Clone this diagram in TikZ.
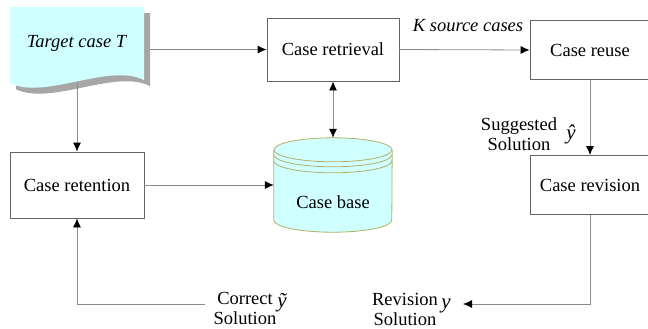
\documentclass[tikz,border=0pt]{standalone}
\usepackage{fontspec}
\setmainfont{LiberationSerif}[Extension=.ttf,UprightFont=*-Regular,ItalicFont=*-Italic,BoldFont=*-Bold,BoldItalicFont=*-BoldItalic]
\usetikzlibrary{arrows.meta,calc,positioning,shadows}
\definecolor{docfill}{RGB}{208,255,255}
\definecolor{baseedge}{RGB}{176,176,100}
\definecolor{boxedge}{RGB}{100,100,100}
\definecolor{linegray}{RGB}{140,140,140}
\tikzset{%
  font=\fontsize{18.5}{21}\selectfont,
  >={Latex[length=9pt,width=8pt,color=black]},
  block/.style={draw=boxedge,line width=0.8pt,rectangle,fill=white,minimum width=132pt,minimum height=63pt,align=center},
  line/.style={draw=linegray,line width=0.8pt,->}
}

\begin{document}
\begin{tikzpicture}[x=1pt,y=-1pt,
  lbl/.style={inner sep=0pt,align=center,font=\fontsize{18.5}{20}\selectfont},
  sym/.style={inner sep=0pt,font=\fontsize{21}{21}\selectfont\itshape},
  cyl/.style={draw=baseedge,line width=0.8pt}]
\useasboundingbox (0,0) rectangle (648,329);
% target document
\node[inner sep=0pt,minimum width=134pt,minimum height=76pt] (target) at (77,45) {};
\path[fill=docfill,drop shadow={shadow xshift=6pt,shadow yshift=-6pt,fill=black!35,opacity=1}]
  (target.north west) -- (target.north east) -- ($(target.south east)+(0,-3)$)
  .. controls ($(target.south)+(33,-21)$) and ($(target.south)+(-32,17)$) .. (target.south west) -- cycle;
\node[lbl] (targetlbl) at (77,43) {\textit{Target case T}};
% process boxes
\node[block] (retrieval) at (333,49.5) {Case retrieval};
\node[block,minimum width=120pt,minimum height=59pt] (reuse) at (590,50) {Case reuse};
\node[block,minimum width=120pt,minimum height=59pt] (revision) at (590,185) {Case revision};
\node[block,minimum width=134pt,minimum height=66pt] (retention) at (77,185) {Case retention};
% case base
\node[inner sep=0pt,minimum width=118pt,minimum height=94pt] (base) at (333,185) {};
\path[fill=docfill] ($(base.north west)+(0,12)$) -- ($(base.south west)+(0,-12)$)
  arc[start angle=180,end angle=0,x radius=59,y radius=12]
  -- ($(base.north east)+(0,12)$) arc[start angle=0,end angle=-180,x radius=59,y radius=12] -- cycle;
\draw[cyl] ($(base.north west)+(0,12)$) -- ($(base.south west)+(0,-12)$)
  arc[start angle=180,end angle=0,x radius=59,y radius=12] -- ($(base.north east)+(0,12)$);
\draw[cyl] ($(base.north)+(0,12)$) ellipse[x radius=59,y radius=12];
\draw[cyl] ($(base.north west)+(0,17)$) arc[start angle=180,end angle=0,x radius=59,y radius=12];
\draw[cyl] ($(base.north west)+(0,23)$) arc[start angle=180,end angle=0,x radius=59,y radius=12];
\node (baselbl) at (333,202) {Case base};
% labels
\node[lbl] (ksrc) at (468,26) {\textit{K source cases}};
\node[lbl] (sugg) at (519,134) {Suggested\\Solution};
\node[sym] (yhat) at (571,134) {ŷ};
\node[lbl] (revsol) at (405,309) {Revision\\Solution};
\node[sym] (ysol) at (446,306) {y};
\node[lbl] (corrsol) at (245,308) {Correct\\Solution};
\node[sym] (ytil) at (282,303) {ỹ};
\coordinate (revend) at (463,304);
\coordinate (corrstart) at (205,304);
% connectors
\draw[line] ([xshift=6pt]target.east |- retrieval.west) -- (retrieval.west);
\draw[line] (retrieval.east) -- (reuse.west);
\draw[line,<->] (retrieval.south) -- (base.north);
\draw[line] (reuse.south) -- (revision.north);
\draw[line] (revision.south) |- (revend);
\draw[line] (target.south) -- (retention.north);
\draw[line] (retention.east) -- (retention.east -| base.west);
\draw[line] (corrstart) -| (retention.south);
\end{tikzpicture}
\end{document}
